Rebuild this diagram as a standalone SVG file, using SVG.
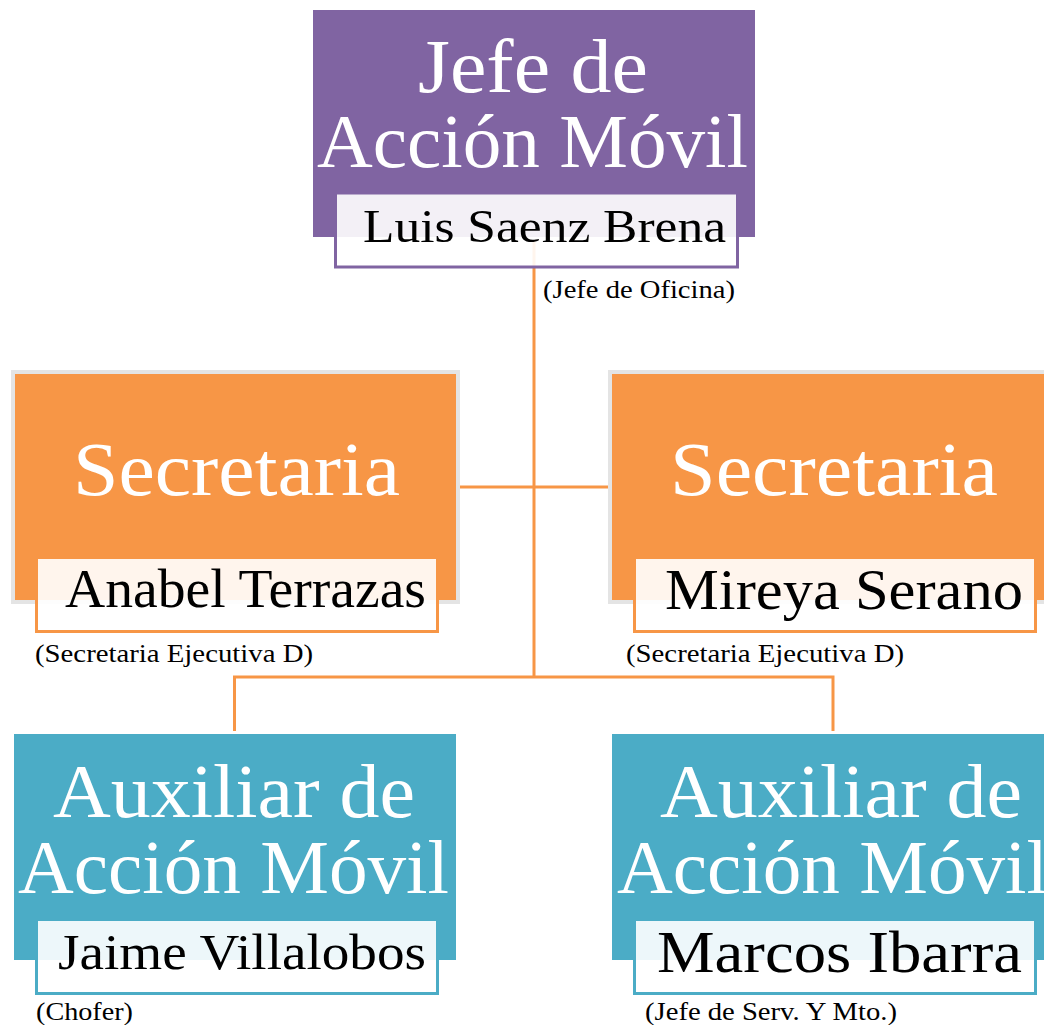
<svg xmlns="http://www.w3.org/2000/svg" width="1044" height="1025" viewBox="0 0 1044 1025">
<style>
text{font-family:"Liberation Serif","Times New Roman",serif;}
.title{fill:#ffffff;font-size:77px;}
.name{fill:#000000;}
.note{fill:#000000;font-size:25px;}
.conn{fill:none;stroke:#f79646;stroke-width:3;}
.nb{fill:#ffffff;fill-opacity:0.9;stroke-width:3;}
.purple{fill:#8064a2;}
.orange{fill:#f79646;stroke:#e4e4e4;stroke-width:4;}
.blue{fill:#4bacc6;}
</style>
<rect width="1044" height="1025" fill="#ffffff"/>
<g id="connectors">
<path class="conn" d="M534 240 V677"/>
<path class="conn" d="M460 487 H608"/>
<path class="conn" d="M234.5 731 V677 H833 V731"/>
</g>
<g id="jefe">
<rect class="purple" x="313" y="10" width="442" height="227"/>
<text class="title" x="418" y="92" textLength="230" lengthAdjust="spacingAndGlyphs">Jefe de</text>
<text class="title" x="317" y="167" textLength="431" lengthAdjust="spacingAndGlyphs">Acción Móvil</text>
<rect class="nb" x="335.5" y="193" width="402" height="74" stroke="#8064a2"/>
<text class="name" x="363" y="242" font-size="47" textLength="363" lengthAdjust="spacingAndGlyphs">Luis Saenz Brena</text>
<text class="note" x="543" y="298" font-size="24" textLength="192" lengthAdjust="spacingAndGlyphs">(Jefe de Oficina)</text>
</g>
<g id="secretaria1">
<rect class="orange" x="13" y="372" width="445" height="230"/>
<text class="title" x="73" y="495" font-size="78" textLength="327" lengthAdjust="spacingAndGlyphs">Secretaria</text>
<rect class="nb" x="36.5" y="557.5" width="401" height="74" stroke="#f79646"/>
<text class="name" x="65" y="607" font-size="54" textLength="361" lengthAdjust="spacingAndGlyphs">Anabel Terrazas</text>
<text class="note" x="35" y="662" textLength="278" lengthAdjust="spacingAndGlyphs">(Secretaria Ejecutiva D)</text>
</g>
<g id="secretaria2">
<rect class="orange" x="610" y="372" width="445" height="230"/>
<text class="title" x="670" y="495" font-size="78" textLength="328" lengthAdjust="spacingAndGlyphs">Secretaria</text>
<rect class="nb" x="634.5" y="557.5" width="401" height="74" stroke="#f79646"/>
<text class="name" x="665" y="609" font-size="57" textLength="358" lengthAdjust="spacingAndGlyphs">Mireya Serano</text>
<text class="note" x="626" y="662" textLength="278" lengthAdjust="spacingAndGlyphs">(Secretaria Ejecutiva D)</text>
</g>
<g id="auxiliar1">
<rect class="blue" x="14" y="734" width="442" height="226"/>
<text class="title" x="53" y="817" textLength="362" lengthAdjust="spacingAndGlyphs">Auxiliar de</text>
<text class="title" x="18" y="893" textLength="431" lengthAdjust="spacingAndGlyphs">Acción Móvil</text>
<rect class="nb" x="36.5" y="919.5" width="401" height="74" stroke="#4bacc6"/>
<text class="name" x="58" y="969" font-size="51" textLength="368" lengthAdjust="spacingAndGlyphs">Jaime Villalobos</text>
<text class="note" x="36" y="1020" textLength="97" lengthAdjust="spacingAndGlyphs">(Chofer)</text>
</g>
<g id="auxiliar2">
<rect class="blue" x="612" y="734" width="442" height="226"/>
<text class="title" x="660" y="817" textLength="362" lengthAdjust="spacingAndGlyphs">Auxiliar de</text>
<text class="title" x="617" y="893" textLength="431" lengthAdjust="spacingAndGlyphs">Acción Móvil</text>
<rect class="nb" x="634.5" y="919.5" width="401" height="74" stroke="#4bacc6"/>
<text class="name" x="657" y="972" font-size="60" textLength="365" lengthAdjust="spacingAndGlyphs">Marcos Ibarra</text>
<text class="note" x="645" y="1020" textLength="252" lengthAdjust="spacingAndGlyphs">(Jefe de Serv. Y Mto.)</text>
</g>
</svg>
